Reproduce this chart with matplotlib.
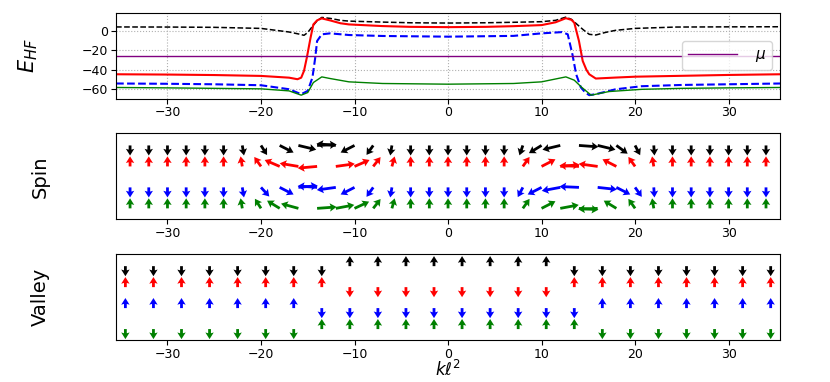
import matplotlib
matplotlib.use('Agg')
import matplotlib.pyplot as plt
import numpy as np

# ---- Hartree-Fock energies ----
black_k = [-35.5, -30, -25, -20, -17, -16, -15.4, -15, -14.4, -14, -13.5, -12.6, -11.5, -10.6, -7, -4, 0,
           4, 7, 10, 11.5, 12.6, 13.2, 13.8, 14.5, 15.1, 15.8, 16.8, 17.9, 20, 24.4, 30, 35.5]
black_e = [4.2, 4.1, 3.8, 2.7, -1, -3, -4.4, -1.5, 6, 10.5, 14, 13, 11, 10.2, 9.2, 8.5, 8.2,
           8.5, 9, 9.6, 11, 14.3, 12, 6.8, 1, -3.4, -4.1, -1.5, 0.7, 2.7, 4.1, 4.3, 4.4]

red_k = [-35.5, -30, -25, -20, -17, -16.1, -15.7, -15.4, -15.1, -14.7, -14.4, -14, -13.5, -12.6, -11.5, -10.6,
         -7, -4, 0, 4, 7, 10, 11.5, 12.6, 13.2, 13.5, 14, 14.4, 14.8, 15.1, 15.8, 17.9, 20, 24.4, 30, 35.5]
red_e = [-44.5, -44.8, -45.3, -46.2, -48, -49.6, -48, -41, -27.4, -6.9, 6.8, 11, 13, 10.9, 8, 6.8,
         5.1, 4.3, 4, 4.3, 5, 6.1, 9, 13.2, 11.5, 8.5, -10.3, -30.8, -40, -44.5, -48.9, -47.9, -47, -46.2, -45.2, -44.5]

blue_k = [-35.5, -30, -25, -20, -17, -15.7, -15, -14.5, -14.2, -14, -13.5, -12.6, -10.6, -7, 0, 7, 10,
          12.2, 12.8, 13.3, 13.7, 14.2, 14.7, 15.1, 15.8, 17.9, 20.7, 25, 30, 35.5]
blue_e = [-54, -54.3, -54.8, -55.8, -59.9, -65, -61.6, -47.9, -27.4, -10.3, -3.4, -2.4, -4.1, -5.1, -5.8, -5, -2.4,
          -1.1, -3.4, -24, -44.5, -58, -63.5, -66, -65, -60, -56.8, -55.5, -54.8, -54]

green_k = [-35.5, -30, -25, -20, -17, -15.7, -15, -14.4, -13.5, -12.6, -10.6, -7, 0, 7, 10, 12.6, 13.5,
           14.3, 15.3, 17.2, 20.7, 25, 30, 35.5]
green_e = [-58.1, -58.5, -59, -59.5, -61.6, -66, -63.3, -53, -47.2, -48.9, -52.3, -54, -54.7, -54, -52.3, -47.2, -50.6,
           -58, -66, -62.3, -60, -59, -58.5, -58.1]

mu = -25.6

# ---- spin directions (degrees, 0 = right, 90 = up), k = -34 ... 34 step 2 ----
spin_k = list(range(-34, 35, 2))
spin_black = [-90] * 6 + [-85, -72, -45, -25, 5, 170, -135, -110, -95] + [-90] * 6 + \
             [-100, -130, -155, -8, -25, -55, -75, -88] + [-90] * 6
spin_red = [90] * 6 + [95, 110, 140, 162, 190, 15, 40, 68, 82] + [90] * 6 + \
           [70, 45, 10, 175, 165, 135, 110, 95] + [90] * 6
spin_blue = [-90] * 6 + [-85, -65, -45, 10, 172, -165, -135, -110, -95] + [-90] * 6 + \
            [-105, -135, -160, 175, -12, -45, -70, -88] + [-90] * 6
spin_green = [90] * 6 + [95, 108, 130, 152, 8, 20, 42, 68, 82] + [90] * 6 + \
             [70, 45, 20, -8, 185, 130, 110, 95] + [90] * 6

# ---- valley directions (+1 up, -1 down), k = -34.5 ... 34.5 step 3 ----
valley_k = [-34.5, -31.5, -28.5, -25.5, -22.5, -19.5, -16.5, -13.5, -10.5, -7.5, -4.5, -1.5,
            1.5, 4.5, 7.5, 10.5, 13.5, 16.5, 19.5, 22.5, 25.5, 28.5, 31.5, 34.5]
valley_black = [-1] * 8 + [1] * 8 + [-1] * 8
valley_red = [1] * 8 + [-1] * 8 + [1] * 8
valley_blue = [1] * 7 + [-1] * 10 + [1] * 7
valley_green = [-1] * 7 + [1] * 10 + [-1] * 7

colors = ['black', 'red', 'blue', 'green']
levels = [3, 2, 1, 0]

fig = plt.figure(figsize=(8.3, 3.82), dpi=100)
ax1 = fig.add_axes([0.1398, 0.742, 0.8, 0.2251])
ax2 = fig.add_axes([0.1398, 0.426, 0.8, 0.2251])
ax3 = fig.add_axes([0.1398, 0.110, 0.8, 0.2251])

ax1.plot(black_k, black_e, color='black', ls='--', lw=1.1)
ax1.plot(red_k, red_e, color='red', lw=1.5)
ax1.plot(blue_k, blue_e, color='blue', ls='--', lw=1.5)
ax1.plot(green_k, green_e, color='green', lw=1)
ax1.axhline(mu, color='purple', lw=1, label=r'$\mu$')
ax1.set_ylim(-69.5, 19)
ax1.set_yticks([-60, -40, -20, 0])
ax1.grid(True, ls=':', color='#b0b0b0', lw=0.8)
ax1.legend(loc='center right', fontsize=11, handlelength=3.2, handletextpad=1.2)
ax1.set_ylabel(r'$E_{HF}$', fontsize=15)

lx, ly = 2.1, 0.48
qkw = dict(angles='xy', scale_units='xy', scale=1, pivot='tail',
           width=0.0042, headwidth=3.0, headlength=2.4, headaxislength=2.1)

spin_sets = [spin_black, spin_red, spin_blue, spin_green]
for ang, c, y0 in zip(spin_sets, colors, levels):
    a = np.radians(ang)
    ax2.quiver(spin_k, [y0] * len(spin_k), lx * np.cos(a), ly * np.sin(a), color=c, **qkw)
ax2.set_ylabel('Spin', fontsize=14)

valley_sets = [valley_black, valley_red, valley_blue, valley_green]
for d, c, y0 in zip(valley_sets, colors, levels):
    ax3.quiver(valley_k, [y0] * len(valley_k), [0] * len(valley_k), ly * np.array(d), color=c, **qkw)
ax3.set_ylabel('Valley', fontsize=14)
ax3.set_xlabel(r'$k\ell^2$', fontsize=12)

for ax in (ax1, ax2, ax3):
    ax.set_xlim(-35.5, 35.5)
    ax.set_xticks([-30, -20, -10, 0, 10, 20, 30])
    ax.tick_params(labelsize=9, pad=2)
for ax in (ax2, ax3):
    ax.set_ylim(-0.52, 3.58)
    ax.set_yticks([])

ax1.yaxis.set_label_coords(-0.115, 0.5)
ax2.yaxis.set_label_coords(-0.1, 0.5)
ax3.yaxis.set_label_coords(-0.1, 0.5)
ax3.xaxis.set_label_coords(0.5, -0.23)

fig.savefig('out.png', dpi=100)
